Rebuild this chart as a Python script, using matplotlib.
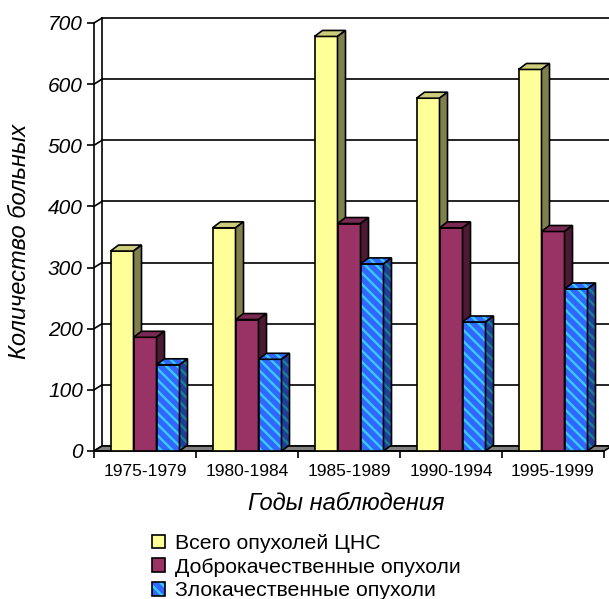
import matplotlib
matplotlib.use("Agg")
import matplotlib.pyplot as plt
from matplotlib.patches import Patch, Polygon
from matplotlib.legend_handler import HandlerTuple

plt.rcParams["font.family"] = ["Liberation Sans", "DejaVu Sans"]
plt.rcParams["hatch.linewidth"] = 1.7

# ── Data ────────────────────────────────────────────────────────────────────────
periods = ["1975-1979", "1980-1984", "1985-1989", "1990-1994", "1995-1999"]
total = [327, 365, 678, 577, 624]
benign = [186, 215, 372, 365, 359]
malignant = [141, 150, 306, 211, 265]
series_names = ["Всего опухолей ЦНС", "Доброкачественные опухоли",
                "Злокачественные опухоли"]
y_ticks = [0, 100, 200, 300, 400, 500, 600, 700]

# ── Colours (front, top, side, hatch stripes) ───────────────────────────────────
STYLES = [
    dict(front="#ffff99", top="#cccc7a", side="#80804d", hatch=None),
    dict(front="#993366", top="#7a2952", side="#4d1a33", hatch=None),
    dict(front="#3366ff", top="#3366ff", side="#1f3d99",
         hatch="\\\\\\", stripe="#33ccff", side_stripe="#1a8099"),
]

W, H, DPI = 609, 599, 100
fig = plt.figure(figsize=(W / DPI, H / DPI), dpi=DPI, facecolor="white")
ax = fig.add_axes([94 / W, 1 - 451 / H, 510 / W, 428 / H])
ncat = len(periods)
ax.set_xlim(0, ncat)
ax.set_ylim(0, y_ticks[-1])
ax.patch.set_visible(False)

# pixel -> data conversion for the oblique depth
px_x = ncat / 510
px_y = y_ticks[-1] / 428
wall_dx, wall_dy = 8 * px_x, 5 * px_y
bar_dx, bar_dy = 8 * px_x, 6 * px_y
bar_w = 23 * px_x
LW = 1.2

# back wall with gridlines and the thin left side wall
for v in y_ticks:
    ax.plot([wall_dx, ncat + 2 * wall_dx], [v + wall_dy] * 2, color="black",
            lw=LW, zorder=1, clip_on=False)
    ax.plot([0, wall_dx], [v, v + wall_dy], color="black", lw=LW, zorder=1,
            clip_on=False)
ax.plot([wall_dx] * 2, [wall_dy, y_ticks[-1] + wall_dy], color="black",
        lw=LW, zorder=1, clip_on=False)

# floor
ax.add_patch(Polygon([(0, 0), (ncat, 0), (ncat + wall_dx, wall_dy),
                      (wall_dx, wall_dy)], closed=True, facecolor="#808080",
                     edgecolor="black", lw=LW, zorder=2, clip_on=False))


def face(pts, color, z, hatch=None, stripe=None):
    if hatch:
        ax.add_patch(Polygon(pts, closed=True, facecolor=color,
                             edgecolor=stripe, hatch=hatch, lw=0, zorder=z))
        ax.add_patch(Polygon(pts, closed=True, fill=False,
                             edgecolor="black", lw=LW, zorder=z))
    else:
        ax.add_patch(Polygon(pts, closed=True, facecolor=color,
                             edgecolor="black", lw=LW, zorder=z))


for k, (vals, st) in enumerate(zip([total, benign, malignant], STYLES)):
    z = 3 + k
    xs = [i + 0.5 + (k - 1.5) * bar_w for i in range(ncat)]
    if st["hatch"]:
        ax.bar(xs, vals, width=bar_w, align="edge", facecolor=st["front"],
               edgecolor=st["stripe"], hatch=st["hatch"], lw=0, zorder=z)
        ax.bar(xs, vals, width=bar_w, align="edge", fill=False,
               edgecolor="black", lw=LW, zorder=z)
    else:
        ax.bar(xs, vals, width=bar_w, align="edge", facecolor=st["front"],
               edgecolor="black", lw=LW, zorder=z)
    for x0, h in zip(xs, vals):
        top = [(x0, h), (x0 + bar_w, h), (x0 + bar_w + bar_dx, h + bar_dy),
               (x0 + bar_dx, h + bar_dy)]
        side = [(x0 + bar_w, 0), (x0 + bar_w + bar_dx, bar_dy),
                (x0 + bar_w + bar_dx, h + bar_dy), (x0 + bar_w, h)]
        face(top, st["top"], z, st["hatch"], st.get("stripe"))
        face(side, st["side"], z, st["hatch"], st.get("side_stripe"))

# axes
for s in ("top", "right"):
    ax.spines[s].set_visible(False)
for s in ("left", "bottom"):
    ax.spines[s].set_color("black")
    ax.spines[s].set_linewidth(LW)

ax.set_yticks(y_ticks)
ax.set_yticklabels([str(v) for v in y_ticks], fontsize=15, style="italic")
ax.tick_params(axis="y", length=5, width=LW, pad=3, colors="black")

ax.set_xticks(range(ncat + 1))
ax.set_xticklabels([])
ax.set_xticks([i + 0.5 for i in range(ncat)], minor=True)
ax.set_xticklabels(periods, minor=True, fontsize=12.5)
ax.tick_params(axis="x", which="major", length=5, width=LW)
ax.tick_params(axis="x", which="minor", length=0, pad=9)

fig.text(346 / W, 1 - 503 / H, "Годы наблюдения", fontsize=17,
         style="italic", ha="center", va="center")
fig.text(20 / W, 1 - 241 / H, "Количество больных", fontsize=17,
         style="italic", ha="center", va="center", rotation=90)

# legend
handles = [
    Patch(facecolor=STYLES[0]["front"], edgecolor="black", lw=LW),
    Patch(facecolor=STYLES[1]["front"], edgecolor="black", lw=LW),
    (Patch(facecolor=STYLES[2]["front"], edgecolor=STYLES[2]["stripe"],
           hatch=STYLES[2]["hatch"], lw=0),
     Patch(fill=False, edgecolor="black", lw=LW)),
]
fig.legend(handles, series_names, loc="upper left",
           bbox_to_anchor=(152 / W, 1 - 534 / H), frameon=False,
           fontsize=15.3, handlelength=0.62, handleheight=0.62,
           handletextpad=0.45, labelspacing=0.22, borderpad=0,
           borderaxespad=0, handler_map={tuple: HandlerTuple(ndivide=1)})

fig.savefig("out.png", dpi=DPI, facecolor="white")
